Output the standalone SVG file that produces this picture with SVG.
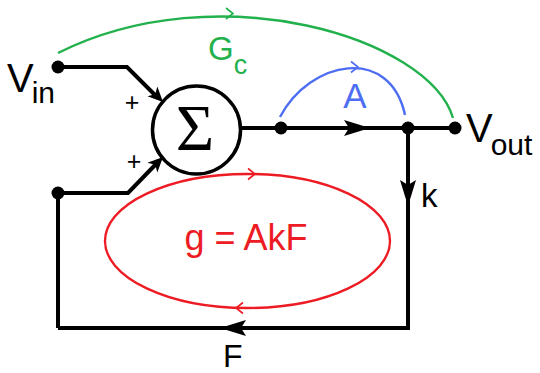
<svg xmlns="http://www.w3.org/2000/svg" width="540" height="373" viewBox="0 0 540 373">
<style>
.w{fill:none;stroke:#000;stroke-width:4;stroke-linejoin:miter}
.dot{fill:#000}
.ah{fill:#000}
.chev{fill:none;stroke-width:1.6}
.t{font-family:"Liberation Sans",Arial,sans-serif;fill:#000}
.g{stroke:#22b14c}
.b{stroke:#4d6df3}
.r{stroke:#ed1c24}
</style>
<defs>
<path id="bigA" d="M0,0 L-26,-8 L-21,0 L-26,8 Z"/>
<path id="smallA" d="M0,0 L-15,-7 L-11,0 L-15,7 Z"/>
<path id="chev" d="M-7,-5.5 L0,0 L-7,5.5"/>
</defs>
<rect width="540" height="373" fill="#fff"/>
<g id="connectors">
<path class="w" d="M58,67 L127,67 L158,98"/>
<path class="w" d="M58,328 L58,193 L128,193 L158,162"/>
<path class="w" d="M240,128 L455,128"/>
<path class="w" d="M408,128 L408,328 L58,328"/>
<use href="#smallA" class="ah" transform="translate(163,102) rotate(45)"/>
<use href="#smallA" class="ah" transform="translate(163,157) rotate(-45)"/>
<use href="#bigA" class="ah" transform="translate(370,128)"/>
<use href="#bigA" class="ah" transform="translate(408,206) rotate(90)"/>
<use href="#bigA" class="ah" transform="translate(220,328) rotate(180)"/>
</g>
<g id="sum">
<circle cx="196.5" cy="130" r="44" fill="#fff" stroke="#000" stroke-width="3.5"/>
<text x="195" y="150" text-anchor="middle" font-family="Liberation Serif,Times New Roman,serif" font-size="66">Σ</text>
<text class="t" x="132" y="111" text-anchor="middle" font-size="25">+</text>
<text class="t" x="134" y="170" text-anchor="middle" font-size="25">+</text>
</g>
<g id="vin">
<circle class="dot" cx="58" cy="67" r="6.5"/>
<text class="t" x="7" y="92" font-size="40">V<tspan font-size="30" dy="11" dx="-2">in</tspan></text>
</g>
<g id="fbk"><circle class="dot" cx="58" cy="193" r="6.5"/></g>
<g id="n1"><circle class="dot" cx="281" cy="128" r="6.5"/></g>
<g id="n2"><circle class="dot" cx="408" cy="128" r="6.5"/></g>
<g id="vout">
<circle class="dot" cx="455" cy="128" r="6.5"/>
<text class="t" x="466" y="142" font-size="40">V<tspan font-size="30" dy="13" dx="-2">out</tspan></text>
</g>
<g id="gc">
<path class="g" fill="none" stroke-width="2.4" d="M58,53 C218,-27 429,38 453,118"/>
<use href="#chev" class="chev g" transform="translate(233,13.5)"/>
<text x="208" y="60" font-family="Liberation Sans,Arial,sans-serif" font-size="33" fill="#22b14c">G<tspan font-size="27" dy="14">c</tspan></text>
</g>
<g id="a">
<path class="b" fill="none" stroke-width="2.4" d="M280,117 C310,60 390,45 405,115"/>
<use href="#chev" class="chev b" transform="translate(358,67)"/>
<text x="355" y="108" text-anchor="middle" font-family="Liberation Sans,Arial,sans-serif" font-size="35" fill="#4d6df3">A</text>
</g>
<g id="loop">
<ellipse class="r" cx="247.5" cy="241" rx="142.5" ry="67" fill="none" stroke-width="2.4"/>
<use href="#chev" class="chev r" transform="translate(255,174)"/>
<use href="#chev" class="chev r" transform="translate(236,308) rotate(180)"/>
<text x="246" y="250" text-anchor="middle" font-family="Liberation Sans,Arial,sans-serif" font-size="36" fill="#ed1c24">g = AkF</text>
</g>
<g id="k"><text class="t" x="421" y="207" font-size="33">k</text></g>
<g id="f"><text class="t" x="223" y="367" font-size="32">F</text></g>
</svg>
